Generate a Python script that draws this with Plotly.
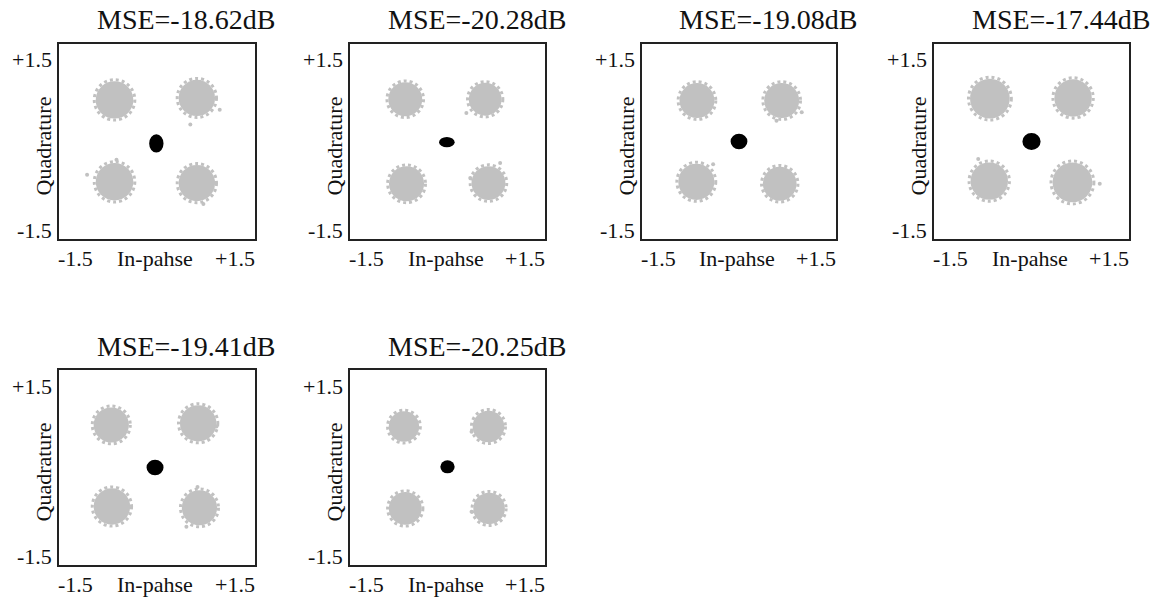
import plotly.graph_objects as go

W, H = 1153, 598

# ---- data ----
mse_labels = ["MSE=-18.62dB", "MSE=-20.28dB", "MSE=-19.08dB",
              "MSE=-17.44dB", "MSE=-19.41dB", "MSE=-20.25dB"]

# gray symbol clouds (4 per panel): centres and radii (data units)
cloud_x = [[-0.65, 0.61, -0.65, 0.61],
           [-0.65, 0.58, -0.63, 0.63],
           [-0.65, 0.66, -0.66, 0.63],
           [-0.64, 0.64, -0.65, 0.63],
           [-0.70, 0.63, -0.69, 0.65],
           [-0.67, 0.63, -0.65, 0.64]]
cloud_y = [[0.64, 0.67, -0.62, -0.64],
           [0.65, 0.65, -0.65, -0.64],
           [0.63, 0.63, -0.62, -0.65],
           [0.66, 0.67, -0.61, -0.63],
           [0.655, 0.68, -0.60, -0.62],
           [0.63, 0.63, -0.63, -0.63]]
cloud_r = [[0.32, 0.31, 0.32, 0.31],
           [0.29, 0.28, 0.30, 0.29],
           [0.30, 0.30, 0.31, 0.29],
           [0.34, 0.32, 0.32, 0.34],
           [0.30, 0.31, 0.31, 0.30],
           [0.26, 0.27, 0.28, 0.27]]

# black centre cluster
centre_x = [-0.01, -0.01, 0.00, 0.00, -0.03, 0.00]
centre_y = [-0.03, -0.01, 0.00, 0.00, 0.00, 0.01]
centre_rx = [0.11, 0.12, 0.13, 0.14, 0.13, 0.11]
centre_ry = [0.14, 0.08, 0.12, 0.13, 0.12, 0.10]

# isolated outlier samples
out_x = [[-1.07, 0.51, -0.62, 0.71, 0.96],
         [0.29, 0.81, 0.35],
         [0.97, -0.40, 0.58],
         [-0.82, 1.05],
         [0.62, 0.91, 0.45],
         [0.37, 0.37]]
out_y = [[-0.51, 0.26, -0.28, -0.96, 0.49],
         [0.44, -0.33, -0.56],
         [0.45, -0.35, 0.32],
         [-0.27, -0.65],
         [-0.30, 0.63, -0.91],
         [-0.68, 0.55]]

axis_min, axis_max = -1.5, 1.5

# ---- layout geometry (pixels) ----
col_px = [(59, 255), (350, 545), (642, 836), (934, 1129)]
row_px = [(44, 239), (370, 565)]
panel_pos = [(0, 0), (0, 1), (0, 2), (0, 3), (1, 0), (1, 1)]

GRAY = "#c1c1c1"
FONT = "Liberation Serif"

fig = go.Figure()
layout = dict(template="none", width=W, height=H, margin=dict(l=0, r=0, t=0, b=0),
              paper_bgcolor="white", plot_bgcolor="white", showlegend=False)
shapes, annotations = [], []

for i in range(6):
    r, c = panel_pos[i]
    n = "" if i == 0 else str(i + 1)
    xa, ya = "xaxis" + n, "yaxis" + n
    xr, yr = "x" + n, "y" + n
    x0, x1 = col_px[c]
    y0, y1 = row_px[r]
    ax_common = dict(range=[axis_min, axis_max], showgrid=False, zeroline=False,
                     showticklabels=False, ticks="", showline=True, mirror=True,
                     linecolor="#222", linewidth=1.6, fixedrange=True)
    layout[xa] = dict(domain=[x0 / W, x1 / W], anchor=yr, **ax_common)
    layout[ya] = dict(domain=[1 - y1 / H, 1 - y0 / H], anchor=xr, **ax_common)

    # clouds: dense core + speckled (dotted) fringe
    for cx, cy, rad in zip(cloud_x[i], cloud_y[i], cloud_r[i]):
        k = 0.9 * rad
        shapes.append(dict(type="circle", xref=xr, yref=yr,
                           x0=cx - k, x1=cx + k, y0=cy - k, y1=cy + k,
                           fillcolor=GRAY, line=dict(width=0), layer="below"))
        k2 = 0.97 * rad
        shapes.append(dict(type="circle", xref=xr, yref=yr,
                           x0=cx - k2, x1=cx + k2, y0=cy - k2, y1=cy + k2,
                           fillcolor="rgba(0,0,0,0)",
                           line=dict(width=3, color=GRAY, dash="dot"), layer="below"))
    # black centre
    shapes.append(dict(type="circle", xref=xr, yref=yr,
                       x0=centre_x[i] - centre_rx[i], x1=centre_x[i] + centre_rx[i],
                       y0=centre_y[i] - centre_ry[i], y1=centre_y[i] + centre_ry[i],
                       fillcolor="black", line=dict(width=0)))

    fig.add_trace(go.Scatter(x=out_x[i], y=out_y[i], mode="markers",
                             xaxis=xr, yaxis=yr, hoverinfo="skip",
                             marker=dict(color=GRAY, size=4, line=dict(width=0))))

    xd, yd = xr + " domain", yr + " domain"
    tf = dict(family=FONT, size=22, color="#111")
    annotations += [
        dict(text=mse_labels[i], xref=xd, yref=yd, x=0.5, y=1, xshift=29, yshift=24,
             xanchor="center", yanchor="middle", showarrow=False,
             font=dict(family=FONT, size=28, color="#111")),
        dict(text="+1.5", xref=xd, yref=yd, x=0, y=1, xshift=-5, yshift=-16,
             xanchor="right", yanchor="middle", showarrow=False, font=tf),
        dict(text="-1.5", xref=xd, yref=yd, x=0, y=0, xshift=-5, yshift=9,
             xanchor="right", yanchor="middle", showarrow=False, font=tf),
        dict(text="-1.5", xref=xd, yref=yd, x=0, y=0, xshift=16, yshift=-19,
             xanchor="center", yanchor="middle", showarrow=False, font=tf),
        dict(text="+1.5", xref=xd, yref=yd, x=1, y=0, xshift=-20, yshift=-19,
             xanchor="center", yanchor="middle", showarrow=False, font=tf),
        dict(text="In-pahse", xref=xd, yref=yd, x=0.5, y=0, xshift=-2, yshift=-19,
             xanchor="center", yanchor="middle", showarrow=False, font=tf),
        dict(text="Quadrature", xref=xd, yref=yd, x=0, y=0.5, xshift=-16, yshift=-5,
             xanchor="center", yanchor="middle", textangle=-90, showarrow=False, font=tf),
    ]

layout["shapes"] = shapes
layout["annotations"] = annotations
fig.update_layout(**layout)
fig.write_html("out.html")
